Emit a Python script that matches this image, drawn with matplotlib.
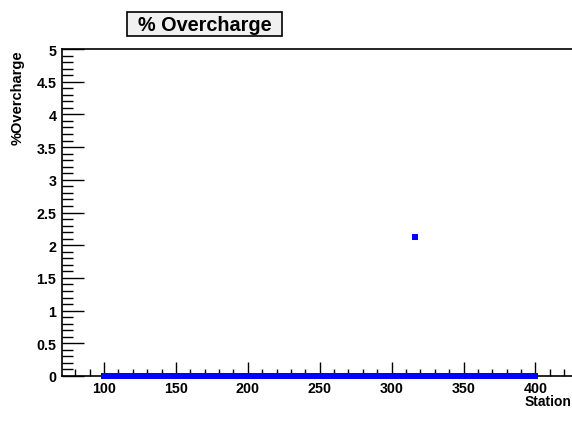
import numpy as np
import matplotlib
matplotlib.use("Agg")
import matplotlib.pyplot as plt
from matplotlib.ticker import MultipleLocator
from matplotlib.patches import Rectangle

plt.rcParams['font.family'] = ['Liberation Sans', 'DejaVu Sans']

# Data: overcharge per station (all zero except one station)
stations = list(range(100, 401))
overcharge = [0.0] * len(stations)
outlier_station = 316
outlier_value = 2.12
overcharge[stations.index(outlier_station)] = outlier_value

title = "% Overcharge"
xlabel = "Station"
ylabel = "%Overcharge"
xticks = [100, 150, 200, 250, 300, 350, 400]
yticks = [0, 0.5, 1, 1.5, 2, 2.5, 3, 3.5, 4, 4.5, 5]

fig = plt.figure(figsize=(5.72, 4.39), dpi=100)
W, H = 572, 439
left_px, right_px, top_px, bottom_px = 62, 580, 50, 377
ax = fig.add_axes([left_px / W, 1 - bottom_px / H, (right_px - left_px) / W, (bottom_px - top_px) / H])

ax.plot(stations, overcharge, linestyle='none', marker='s', markersize=3.8,
        markerfacecolor='#0000ff', markeredgecolor='#0000ff', markeredgewidth=0,
        clip_on=False, zorder=5)

ax.set_xlim(70.8, 431)
ax.set_ylim(0, 5)

ax.set_xticks(xticks)
ax.set_xticklabels([str(t) for t in xticks])
ax.set_yticks(yticks)
ax.set_yticklabels(["%g" % t for t in yticks])
ax.xaxis.set_minor_locator(MultipleLocator(10))
ax.yaxis.set_minor_locator(MultipleLocator(0.1))

ax.tick_params(axis='x', which='major', direction='in', length=10, width=1, pad=3.5,
               labelsize=10.3, top=False)
ax.tick_params(axis='x', which='minor', direction='in', length=5, width=1, top=False)
ax.tick_params(axis='y', which='major', direction='in', length=16, width=1, pad=4,
               labelsize=10.3, right=False)
ax.tick_params(axis='y', which='minor', direction='in', length=8, width=1, right=False)
for lab in ax.get_xticklabels() + ax.get_yticklabels():
    lab.set_fontweight('bold')

for s in ['left', 'bottom', 'top', 'right']:
    ax.spines[s].set_linewidth(1.2)
    ax.spines[s].set_color('black')

fig.text(525 / W, 1 - 402 / H, xlabel, fontsize=10, fontweight='bold', ha='left', va='center')
fig.text(18 / W, 1 - 50 / H, ylabel, rotation=90, fontsize=10.5, fontweight='bold',
         ha='center', va='top')

# title box
bx0, bx1, by0, by1 = 127, 282, 13, 37
fig.patches.append(Rectangle((bx0 / W, 1 - by1 / H), (bx1 - bx0) / W, (by1 - by0) / H,
                             transform=fig.transFigure, facecolor='#f0f0f0',
                             edgecolor='black', linewidth=1.2, zorder=1))
fig.text(204.5 / W, 1 - 25.5 / H, title, fontsize=14.3, fontweight='bold', ha='center',
         va='center', zorder=2)

fig.savefig("out.png", dpi=100)
